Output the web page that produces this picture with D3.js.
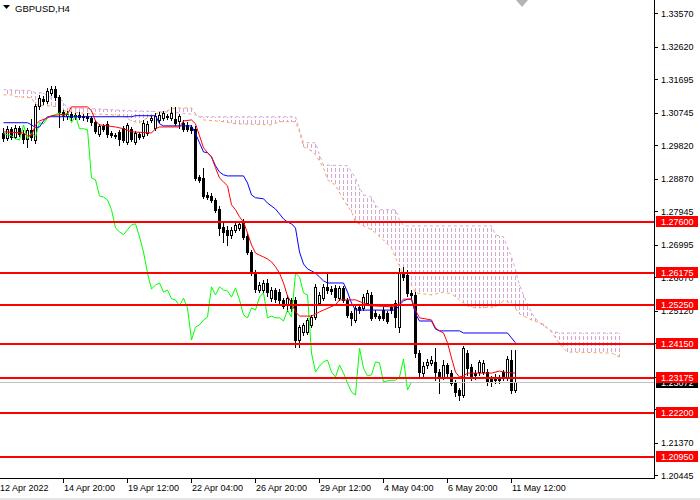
<!DOCTYPE html>
<html><head><meta charset="utf-8">
<script src="https://cdn.jsdelivr.net/npm/d3@7"></script>
<style>
html,body{margin:0;padding:0;background:#fff;}
svg{display:block;font-family:"Liberation Sans",Arial,sans-serif;}
</style></head><body>
<svg id="c" width="700" height="500"></svg>
<script>
const symbolTitle = "GBPUSD,H4";

const opens = [1.3014,1.3000,1.3026,1.3003,1.3029,1.3012,1.2997,1.3023,1.2994,1.3091,
1.3111,1.3105,1.3128,1.3139,1.3117,1.3074,1.3063,1.3068,1.3060,1.3066,
1.3060,1.3063,1.3057,1.3046,1.3012,1.3034,1.3040,1.3014,1.3009,1.3017,
1.3029,1.2989,1.3026,1.2989,1.3012,1.3006,1.3014,1.3051,1.3029,1.3051,
1.3057,1.3063,1.3057,1.3054,1.3048,1.3043,1.3037,1.3031,1.3026,1.2889,
1.2886,1.2838,1.2835,1.2824,1.2798,1.2747,1.2739,1.2725,1.2739,1.2744,
1.2759,1.2722,1.2676,1.2616,1.2568,1.2568,1.2588,1.2545,1.2568,1.2562,
1.2540,1.2526,1.2540,1.2540,1.2426,1.2449,1.2449,1.2469,1.2491,1.2531,
1.2545,1.2577,1.2571,1.2574,1.2545,1.2574,1.2540,1.2503,1.2483,1.2520,
1.2517,1.2531,1.2554,1.2503,1.2494,1.2511,1.2503,1.2520,1.2531,1.2463,
1.2616,1.2611,1.2560,1.2554,1.2389,1.2332,1.2355,1.2361,1.2364,1.2335,
1.2321,1.2355,1.2332,1.2304,1.2284,1.2270,1.2389,1.2349,1.2332,1.2335,
1.2335,1.2335,1.2315,1.2321,1.2321,1.2335,1.2318,1.2369,1.2284];

const highs = [1.3029,1.3034,1.3031,1.3037,1.3034,1.3023,1.3029,1.3054,1.3097,1.3122,
1.3119,1.3142,1.3148,1.3148,1.3122,1.3080,1.3077,1.3074,1.3071,1.3074,
1.3068,1.3071,1.3063,1.3051,1.3040,1.3040,1.3048,1.3020,1.3014,1.3023,
1.3034,1.3043,1.3031,1.3020,1.3017,1.3051,1.3048,1.3063,1.3071,1.3074,
1.3077,1.3068,1.3088,1.3088,1.3068,1.3051,1.3046,1.3037,1.3034,1.2895,
1.2915,1.2847,1.2844,1.2830,1.2807,1.2761,1.2750,1.2747,1.2759,1.2764,
1.2770,1.2730,1.2682,1.2625,1.2591,1.2597,1.2599,1.2577,1.2574,1.2571,
1.2545,1.2554,1.2545,1.2548,1.2469,1.2474,1.2489,1.2497,1.2585,1.2562,
1.2585,1.2616,1.2580,1.2582,1.2580,1.2580,1.2545,1.2508,1.2526,1.2526,
1.2557,1.2568,1.2562,1.2511,1.2500,1.2520,1.2508,1.2526,1.2540,1.2631,
1.2634,1.2625,1.2568,1.2562,1.2398,1.2364,1.2372,1.2381,1.2403,1.2344,
1.2369,1.2361,1.2341,1.2312,1.2290,1.2409,1.2398,1.2358,1.2341,1.2369,
1.2369,1.2344,1.2324,1.2330,1.2327,1.2341,1.2381,1.2398,1.2398];

const lows = [1.2992,1.2994,1.2997,1.3000,1.3006,1.2986,1.2975,1.2994,1.2986,1.3083,
1.3097,1.3100,1.3122,1.3108,1.3031,1.3051,1.3054,1.3051,1.3054,1.3054,
1.3051,1.3048,1.3037,1.3014,1.3006,1.3020,1.3003,1.3003,1.3000,1.2980,
1.2989,1.2983,1.2992,1.2983,1.2997,1.3000,1.3009,1.3046,1.3023,1.3046,
1.3051,1.3054,1.3051,1.3037,1.3029,1.3020,1.3020,1.3014,1.2881,1.2875,
1.2830,1.2827,1.2818,1.2790,1.2725,1.2705,1.2696,1.2716,1.2733,1.2739,
1.2713,1.2670,1.2611,1.2562,1.2562,1.2562,1.2551,1.2537,1.2534,1.2531,
1.2517,1.2508,1.2508,1.2406,1.2406,1.2440,1.2443,1.2463,1.2486,1.2526,
1.2540,1.2560,1.2557,1.2540,1.2540,1.2534,1.2491,1.2469,1.2477,1.2503,
1.2511,1.2526,1.2483,1.2489,1.2483,1.2483,1.2474,1.2503,1.2463,1.2449,
1.2597,1.2551,1.2545,1.2378,1.2324,1.2324,1.2346,1.2355,1.2312,1.2275,
1.2315,1.2318,1.2298,1.2267,1.2256,1.2264,1.2327,1.2312,1.2315,1.2327,
1.2330,1.2298,1.2295,1.2304,1.2304,1.2312,1.2312,1.2275,1.2278];

const closes = [1.3000,1.3026,1.3003,1.3029,1.3012,1.2997,1.3023,1.3003,1.3091,1.3114,
1.3105,1.3134,1.3139,1.3117,1.3074,1.3063,1.3068,1.3060,1.3066,1.3060,
1.3063,1.3057,1.3046,1.3020,1.3034,1.3026,1.3012,1.3009,1.3006,1.2997,
1.2994,1.3037,1.2997,1.3014,1.3003,1.3043,1.3040,1.3057,1.3063,1.3066,
1.3071,1.3060,1.3071,1.3043,1.3063,1.3026,1.3026,1.3023,1.2886,1.2881,
1.2835,1.2832,1.2824,1.2796,1.2744,1.2733,1.2725,1.2739,1.2753,1.2756,
1.2719,1.2676,1.2616,1.2571,1.2582,1.2588,1.2562,1.2568,1.2543,1.2540,
1.2523,1.2545,1.2517,1.2426,1.2463,1.2469,1.2483,1.2491,1.2577,1.2554,
1.2577,1.2568,1.2565,1.2548,1.2574,1.2540,1.2497,1.2489,1.2517,1.2511,
1.2548,1.2560,1.2489,1.2494,1.2489,1.2489,1.2480,1.2511,1.2491,1.2616,
1.2605,1.2560,1.2554,1.2389,1.2335,1.2352,1.2364,1.2369,1.2335,1.2321,
1.2355,1.2332,1.2304,1.2278,1.2270,1.2403,1.2346,1.2324,1.2327,1.2364,
1.2361,1.2307,1.2310,1.2312,1.2312,1.2321,1.2372,1.2284,1.2307];

// Ichimoku lines: [bar index, price]
const tenkan = [[0,1.3017],[5,1.3014],[6,1.3006],[7,1.3006],[8,1.3037],[9,1.3048],[11,1.3057],[12,1.3063],[16,1.3068],[17,1.3088],[21,1.3088],[22,1.3077],[23,1.3048],[24,1.3037],[28,1.3031],[30,1.3026],[32,1.3017],[37,1.3014],[38,1.3026],[39,1.3031],[44,1.3031],[45,1.3048],[47,1.3051],[48,1.3040],[49,1.3006],[50,1.2972],[51,1.2958],[52,1.2946],[53,1.2915],[54,1.2886],[55,1.2875],[56,1.2864],[57,1.2810],[58,1.2796],[59,1.2776],[60,1.2761],[61,1.2730],[62,1.2696],[63,1.2673],[64,1.2667],[65,1.2662],[66,1.2656],[67,1.2648],[68,1.2634],[69,1.2616],[70,1.2588],[71,1.2551],[72,1.2531],[73,1.2506],[74,1.2494],[77,1.2494],[79,1.2506],[80,1.2511],[83,1.2526],[84,1.2540],[88,1.2540],[90,1.2531],[92,1.2523],[98,1.2520],[99,1.2531],[100,1.2542],[102,1.2542],[103,1.2511],[104,1.2489],[107,1.2483],[108,1.2460],[109,1.2452],[110,1.2446],[111,1.2418],[112,1.2375],[113,1.2335],[114,1.2321],[115,1.2324],[116,1.2332],[122,1.2332],[124,1.2338],[125,1.2335],[128,1.2332]];

const kijun = [[0,1.3043],[6,1.3043],[7,1.3037],[8,1.3029],[9,1.3031],[10,1.3048],[11,1.3060],[32,1.3060],[33,1.3063],[38,1.3063],[39,1.3040],[40,1.3034],[47,1.3034],[48,1.3012],[49,1.2986],[50,1.2960],[51,1.2958],[52,1.2946],[53,1.2921],[54,1.2903],[55,1.2895],[56,1.2892],[60,1.2892],[61,1.2872],[62,1.2838],[63,1.2830],[65,1.2827],[66,1.2815],[68,1.2798],[69,1.2784],[70,1.2770],[71,1.2761],[72,1.2756],[73,1.2744],[74,1.2676],[75,1.2642],[76,1.2628],[77,1.2622],[78,1.2616],[79,1.2605],[80,1.2594],[81,1.2588],[85,1.2588],[86,1.2562],[87,1.2531],[88,1.2511],[98,1.2511],[99,1.2526],[100,1.2537],[101,1.2542],[102,1.2542],[103,1.2500],[104,1.2480],[107,1.2480],[108,1.2457],[109,1.2452],[114,1.2452],[115,1.2446],[126,1.2446],[127,1.2432],[128,1.2418]];

const spanA = [[0,1.3122],[2,1.3122],[3,1.3117],[7,1.3114],[8,1.3094],[14,1.3088],[15,1.3077],[19,1.3071],[23,1.3068],[30,1.3063],[32,1.3048],[34,1.3043],[36,1.3057],[38,1.3068],[40,1.3074],[43,1.3085],[47,1.3085],[48,1.3068],[50,1.3051],[55,1.3046],[58,1.3040],[67,1.3037],[69,1.3046],[73,1.3046],[74,1.3017],[75,1.2975],[77,1.2963],[78,1.2952],[80,1.2915],[81,1.2881],[83,1.2866],[84,1.2844],[85,1.2824],[87,1.2790],[88,1.2761],[92,1.2739],[95,1.2710],[97,1.2687],[98,1.2659],[99,1.2636],[100,1.2608],[102,1.2582],[103,1.2560],[107,1.2554],[110,1.2562],[112,1.2557],[114,1.2540],[116,1.2523],[118,1.2517],[123,1.2520],[125,1.2537],[127,1.2531],[129,1.2500],[132,1.2483],[135,1.2471],[137,1.2449],[139,1.2415],[141,1.2392],[152,1.2389],[154,1.2378]];

const spanB = [[0,1.3137],[7,1.3134],[8,1.3128],[10,1.3128],[11,1.3117],[14,1.3114],[15,1.3100],[16,1.3085],[22,1.3083],[32,1.3077],[40,1.3074],[44,1.3071],[48,1.3066],[49,1.3060],[73,1.3060],[74,1.3023],[75,1.2986],[78,1.2986],[79,1.2952],[80,1.2923],[86,1.2921],[88,1.2886],[89,1.2858],[90,1.2838],[92,1.2832],[93,1.2810],[94,1.2796],[98,1.2796],[99,1.2767],[100,1.2750],[122,1.2750],[123,1.2725],[125,1.2719],[126,1.2690],[127,1.2662],[128,1.2625],[129,1.2582],[130,1.2554],[132,1.2503],[134,1.2474],[137,1.2452],[139,1.2446],[154,1.2446]];

const chikouShift = 26;

const levels = [1.27600, 1.26175, 1.25250, 1.24150, 1.23175, 1.22200, 1.20950];
const bidPrice = 1.23072;
const priceTicks = [1.33570,1.32620,1.31695,1.30745,1.29820,1.28870,1.27945,1.26995,1.26070,1.25120,1.24195,1.23245,1.22320,1.21370,1.20445];
const timeTickBars = [-1,15,31,47,63,79,95,111,127];
const timeLabels = ["12 Apr 2022","14 Apr 20:00","19 Apr 12:00","22 Apr 04:00","26 Apr 20:00","29 Apr 12:00","4 May 04:00","6 May 20:00","11 May 12:00"];

// ---------- drawing ----------
const svg = d3.select("#c");
const plotW = 654, plotH = 478;
const x = d3.scaleLinear().domain([0, 163]).range([3.5, 655.5]);
const y = d3.scaleLinear().domain([1.20950, 1.27600]).range([456.6, 222.4]);

svg.append("rect").attr("width",700).attr("height",500).attr("fill","#fff");

const defs = svg.append("defs");
defs.append("clipPath").attr("id","plot").append("rect").attr("x",0).attr("y",0).attr("width",plotW).attr("height",plotH);
const pat = defs.append("pattern").attr("id","hatch").attr("patternUnits","userSpaceOnUse")
  .attr("x",3).attr("y",0).attr("width",4).attr("height",6);
pat.append("rect").attr("x",0).attr("y",0).attr("width",1).attr("height",4)
  .attr("fill","#D6A6D6").attr("shape-rendering","crispEdges");

const plot = svg.append("g").attr("clip-path","url(#plot)");
const line = d3.line().x(d=>x(d[0])).y(d=>y(d[1]));

// cloud
const poly = spanA.concat(spanB.slice().reverse());
plot.append("path").attr("d", line(poly)+"Z").attr("fill","url(#hatch)").attr("stroke","none").attr("shape-rendering","crispEdges");
plot.append("path").attr("d", line(spanB)).attr("fill","none").attr("stroke","#D6A6D6").attr("stroke-width",1).attr("stroke-dasharray","3,3");
plot.append("path").attr("d", line(spanA)).attr("fill","none").attr("stroke","#F4A460").attr("stroke-width",1).attr("stroke-dasharray","3,3");

// candles
const bars = d3.range(opens.length).map(i=>({i, o:opens[i], h:highs[i], l:lows[i], c:closes[i]}));
const cg = plot.append("g").attr("shape-rendering","crispEdges");
const cs = cg.selectAll("g").data(bars).join("g");
cs.append("rect")
  .attr("x", d=>Math.floor(x(d.i)))
  .attr("y", d=>Math.round(y(d.h)))
  .attr("width",1)
  .attr("height", d=>Math.max(1, Math.round(y(d.l))-Math.round(y(d.h))+1))
  .attr("fill","#000");
cs.append("rect")
  .attr("x", d=>Math.floor(x(d.i))-1)
  .attr("y", d=>Math.round(y(Math.max(d.o,d.c))))
  .attr("width",3)
  .attr("height", d=>Math.max(1, Math.round(y(Math.min(d.o,d.c)))-Math.round(y(Math.max(d.o,d.c)))+1))
  .attr("fill","#000");
cs.filter(d=>d.c>d.o && (Math.round(y(d.o))-Math.round(y(d.c)))>=2).append("rect")
  .attr("x", d=>Math.floor(x(d.i)))
  .attr("y", d=>Math.round(y(d.c))+1)
  .attr("width",1)
  .attr("height", d=>Math.round(y(d.o))-Math.round(y(d.c))-1)
  .attr("fill","#fff");

// chikou (close shifted back)
const chikou = d3.range(0, closes.length-chikouShift).map(i=>[i, closes[i+chikouShift]]);
plot.append("path").attr("d", line(chikou)).attr("fill","none").attr("stroke","#00FF00").attr("stroke-width",1);
plot.append("path").attr("d", line(kijun)).attr("fill","none").attr("stroke","#0000FF").attr("stroke-width",1);
plot.append("path").attr("d", line(tenkan)).attr("fill","none").attr("stroke","#FF0000").attr("stroke-width",1);

// bid line
plot.append("rect").attr("x",0).attr("y",Math.round(y(bidPrice))).attr("width",plotW).attr("height",1).attr("fill","#C0C0C0");

// horizontal levels
plot.selectAll("rect.lvl").data(levels).join("rect").attr("class","lvl")
  .attr("x",0).attr("y",d=>Math.round(y(d))-1).attr("width",plotW).attr("height",2).attr("fill","#FF0000");

// shift marker
svg.append("path").attr("d","M516,0L528,0L522,7Z").attr("fill","#B4B4B4");

// title
svg.append("path").attr("d","M3,5L10,5L6.5,9Z").attr("fill","#000");
svg.append("text").attr("x",15).attr("y",12).attr("font-size",9.5).attr("fill","#000").text(symbolTitle);

// axes frame
svg.append("rect").attr("x",654).attr("y",0).attr("width",1).attr("height",479).attr("fill","#000");
svg.append("rect").attr("x",0).attr("y",478).attr("width",655).attr("height",1).attr("fill","#000");

// price axis
const ay = d3.axisRight(y).tickValues(priceTicks).tickSize(3).tickPadding(3).tickFormat(d3.format(".5f"));
const gy = svg.append("g").attr("transform","translate(655,1)").call(ay);
gy.select(".domain").remove();
gy.selectAll("text").attr("font-size",9).attr("font-family","Liberation Sans, Arial, sans-serif").attr("fill","#000");
gy.selectAll("line").attr("stroke","#000").attr("shape-rendering","crispEdges");

// bid label
const by = Math.round(y(bidPrice));
svg.append("rect").attr("x",656).attr("y",by-5).attr("width",42).attr("height",11).attr("fill","#000");
svg.append("text").attr("x",661).attr("y",by+3.5).attr("font-size",9).attr("fill","#fff").text(d3.format(".5f")(bidPrice));

// level labels
const lg = svg.append("g").selectAll("g").data(levels).join("g");
lg.append("rect").attr("x",656).attr("y",d=>Math.round(y(d))-6).attr("width",42).attr("height",11).attr("fill","#FF0000");
lg.append("text").attr("x",661).attr("y",d=>Math.round(y(d))+3).attr("font-size",9).attr("fill","#fff").text(d=>d3.format(".5f")(d));

// time axis
const tg = svg.append("g").selectAll("g").data(timeTickBars).join("g");
tg.append("rect").attr("x",d=>Math.floor(x(d))).attr("y",479).attr("width",1).attr("height",4).attr("fill","#000");
tg.append("text").attr("x",(d)=>Math.floor(x(d))+1).attr("y",491).attr("font-size",9).attr("fill","#000")
  .text((d,i)=>timeLabels[i]);

// bottom window strip
svg.append("rect").attr("x",0).attr("y",498).attr("width",700).attr("height",2).attr("fill","#E6E6E6");
</script>
</body></html>
